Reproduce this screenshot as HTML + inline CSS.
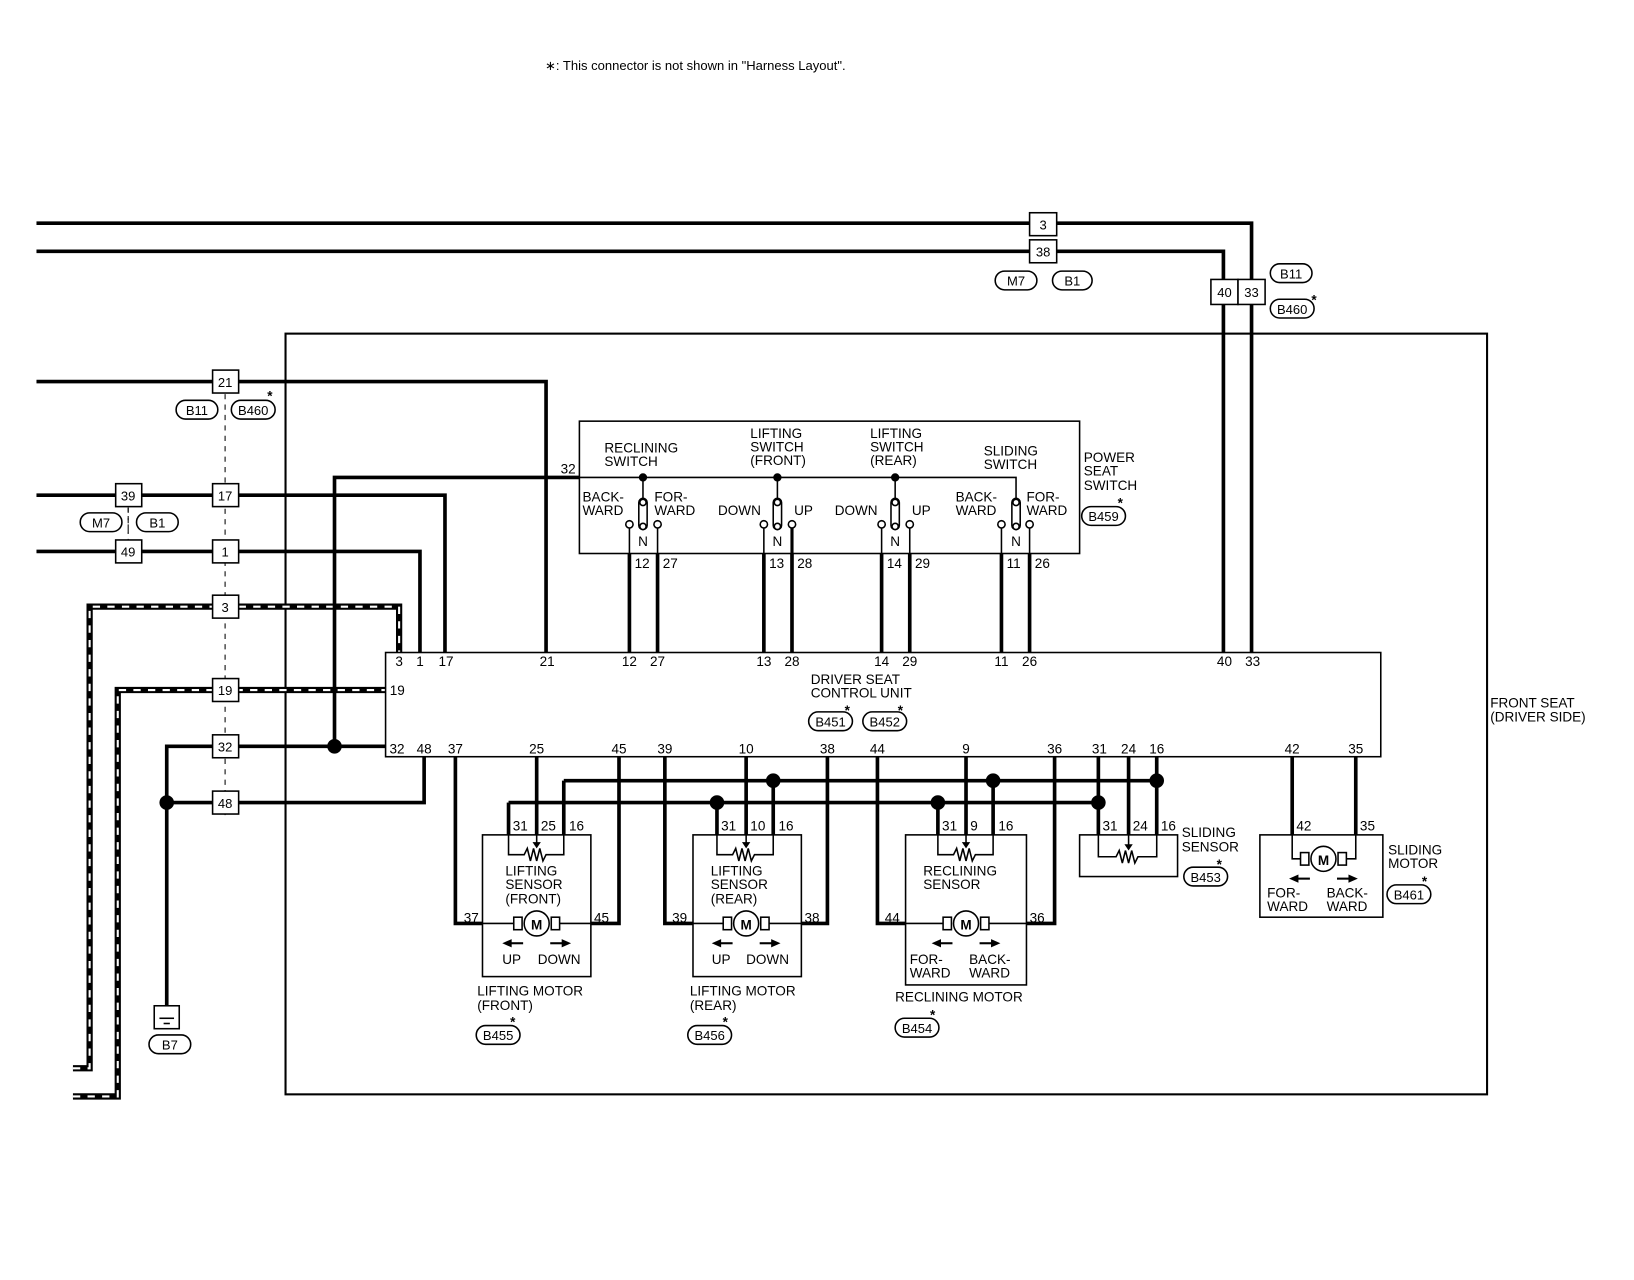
<!DOCTYPE html>
<html><head><meta charset="utf-8"><style>
html,body{margin:0;padding:0;background:#fff}
svg{display:block}
text{font-family:"Liberation Sans",Arial,sans-serif;font-size:13px;fill:#000}
.p{font-size:12.5px}
</style></head><body>
<svg width="1634" height="1280" viewBox="0 0 1568 1228" xmlns="http://www.w3.org/2000/svg">
<g fill="none" stroke="#000">
<!-- frame -->
<rect x="274" y="320" width="1153" height="730" stroke-width="2"/>
<!-- top lines -->
<polyline points="35,214 1201,214 1201,626" stroke-width="3.5"/>
<polyline points="35,241 1174,241 1174,626" stroke-width="3.5"/>
<!-- left lines -->
<polyline points="35,366 524,366 524,626" stroke-width="3.5"/>
<polyline points="35,475 427,475 427,626" stroke-width="3.5"/>
<polyline points="35,529 403,529 403,626" stroke-width="3.5"/>
<!-- shielded -->
<polyline points="70,1025 86,1025 86,582 383,582 383,626" stroke-width="6"/>
<polyline points="70,1052 113,1052 113,662 370,662" stroke-width="6"/>
<polyline points="70,1025 86,1025 86,582 383,582 383,626" stroke-width="2" stroke="#fff" stroke-dasharray="7,7"/>
<polyline points="70,1052 113,1052 113,662 370,662" stroke-width="2" stroke="#fff" stroke-dasharray="7,7"/>
<!-- 32/48 -->
<polyline points="160,965 160,716 370,716" stroke-width="3.5"/>
<polyline points="160,770 407,770 407,726" stroke-width="3.5"/>
<polyline points="321,716 321,458 556,458" stroke-width="3.5"/>
<!-- dashed connectors -->
<line x1="216" y1="378" x2="216" y2="782" stroke-width="1" stroke-dasharray="5,5"/>
<line x1="123" y1="487" x2="123" y2="540" stroke-width="1" stroke-dasharray="5,5"/>
<line x1="123" y1="487" x2="123" y2="512" stroke-width="1" stroke-dasharray="4,4"/>
<!-- ground -->
<rect x="148" y="965" width="24" height="22" stroke-width="1.5"/>
<line x1="153" y1="977" x2="167" y2="977" stroke-width="1.5"/>
<line x1="157" y1="982" x2="163" y2="982" stroke-width="1.5"/>
<!-- control unit -->
<rect x="370" y="626" width="955" height="100" stroke-width="1.5"/>
<!-- power seat switch -->
<rect x="556" y="404" width="480" height="127" stroke-width="1.5"/>
<polyline points="556,458 975,458 975,478" stroke-width="1.5"/>
<!-- switch wires -->
<g stroke-width="1.5">
<line x1="617" y1="458" x2="617" y2="478"/><line x1="746" y1="458" x2="746" y2="478"/><line x1="859" y1="458" x2="859" y2="478"/>
<rect x="613" y="478" width="8" height="30" rx="4"/><rect x="742" y="478" width="8" height="30" rx="4"/><rect x="855" y="478" width="8" height="30" rx="4"/><rect x="971" y="478" width="8" height="30" rx="4"/>
<circle cx="617" cy="482" r="3" fill="#fff"/><circle cx="617" cy="505" r="3" fill="#fff"/>
<circle cx="746" cy="482" r="3" fill="#fff"/><circle cx="746" cy="505" r="3" fill="#fff"/>
<circle cx="859" cy="482" r="3" fill="#fff"/><circle cx="859" cy="505" r="3" fill="#fff"/>
<circle cx="975" cy="482" r="3" fill="#fff"/><circle cx="975" cy="505" r="3" fill="#fff"/>
<circle cx="604" cy="503" r="3.5"/><circle cx="631" cy="503" r="3.5"/>
<circle cx="733" cy="503" r="3.5"/><circle cx="760" cy="503" r="3.5"/>
<circle cx="846" cy="503" r="3.5"/><circle cx="873" cy="503" r="3.5"/>
<circle cx="961" cy="503" r="3.5"/><circle cx="988" cy="503" r="3.5"/>
<line x1="604" y1="507" x2="604" y2="531"/><line x1="631" y1="507" x2="631" y2="531"/>
<line x1="733" y1="507" x2="733" y2="531"/><line x1="846" y1="507" x2="846" y2="531"/>
<line x1="873" y1="507" x2="873" y2="531"/><line x1="961" y1="507" x2="961" y2="531"/><line x1="988" y1="507" x2="988" y2="531"/>
</g>
<line x1="760" y1="507" x2="760" y2="531" stroke-width="3"/>
<g stroke-width="3.5">
<line x1="604" y1="531" x2="604" y2="626"/><line x1="631" y1="531" x2="631" y2="626"/>
<line x1="733" y1="531" x2="733" y2="626"/><line x1="760" y1="531" x2="760" y2="626"/>
<line x1="846" y1="531" x2="846" y2="626"/><line x1="873" y1="531" x2="873" y2="626"/>
<line x1="961" y1="531" x2="961" y2="626"/><line x1="988" y1="531" x2="988" y2="626"/>
<!-- bottom wires -->
<line x1="541" y1="749" x2="1110" y2="749"/>
<line x1="488" y1="770" x2="1054" y2="770"/>
<polyline points="437,726 437,886 463,886"/>
<polyline points="594,726 594,886 567,886"/>
<polyline points="638,726 638,886 665,886"/>
<polyline points="794,726 794,886 769,886"/>
<polyline points="842,726 842,886 869,886"/>
<polyline points="1012,726 1012,886 985,886"/>
<line x1="488" y1="770" x2="488" y2="801"/><line x1="515" y1="726" x2="515" y2="801"/><line x1="541" y1="749" x2="541" y2="801"/>
<line x1="688" y1="770" x2="688" y2="801"/><line x1="716" y1="726" x2="716" y2="801"/><line x1="742" y1="749" x2="742" y2="801"/>
<line x1="900" y1="770" x2="900" y2="801"/><line x1="927" y1="726" x2="927" y2="801"/><line x1="953" y1="749" x2="953" y2="801"/>
<line x1="1054" y1="726" x2="1054" y2="801"/><line x1="1083" y1="726" x2="1083" y2="801"/><line x1="1110" y1="726" x2="1110" y2="801"/>
<line x1="1240" y1="726" x2="1240" y2="801"/><line x1="1301" y1="726" x2="1301" y2="801"/>
</g>
<!-- component boxes -->
<g stroke-width="1.5">
<rect x="463" y="801" width="104" height="136"/>
<rect x="665" y="801" width="104" height="136"/>
<rect x="869" y="801" width="116" height="144"/>
<rect x="1036" y="801" width="94" height="40"/>
<rect x="1209" y="801" width="118" height="79"/>
<!-- sensors -->
<polyline points="488,801 488,820 503,820 506,814 509,826 512,814 515,826 518,814 521,826 524,820 541,820 541,801"/>
<polyline points="688,801 688,820 703,820 706,814 709,826 712,814 715,826 718,814 721,826 724,820 742,820 742,801"/>
<polyline points="900,801 900,820 915,820 918,814 921,826 924,814 927,826 930,814 933,826 936,820 953,820 953,801"/>
<polyline points="1054,801 1054,822 1071,822 1074,816 1077,828 1080,816 1083,828 1086,816 1089,828 1092,822 1110,822 1110,801"/>
<line x1="515" y1="801" x2="515" y2="812"/><line x1="716" y1="801" x2="716" y2="812"/><line x1="927" y1="801" x2="927" y2="812"/><line x1="1083" y1="801" x2="1083" y2="814"/>
<!-- motor wiring -->
<line x1="463" y1="886" x2="493" y2="886"/><line x1="537" y1="886" x2="567" y2="886"/>
<line x1="665" y1="886" x2="694" y2="886"/><line x1="738" y1="886" x2="769" y2="886"/>
<line x1="869" y1="886" x2="905" y2="886"/><line x1="949" y1="886" x2="985" y2="886"/>
<polyline points="1240,801 1240,824 1248,824"/><polyline points="1301,801 1301,824 1292,824"/>
<!-- ovals -->
<rect x="955" y="260" width="40" height="18" rx="9"/><rect x="1010" y="260" width="38" height="18" rx="9"/>
<rect x="1219" y="253" width="40" height="18" rx="9"/><rect x="1219" y="287" width="42" height="18" rx="9"/>
<rect x="169" y="384" width="40" height="18" rx="9"/><rect x="222" y="384" width="42" height="18" rx="9"/>
<rect x="77" y="492" width="40" height="18" rx="9"/><rect x="131" y="492" width="40" height="18" rx="9"/>
<rect x="143" y="993" width="40" height="18" rx="9"/>
<rect x="776" y="683" width="42" height="18" rx="9"/><rect x="828" y="683" width="42" height="18" rx="9"/>
<rect x="1038" y="486" width="42" height="18" rx="9"/>
<rect x="457" y="984" width="42" height="18" rx="9"/><rect x="660" y="984" width="42" height="18" rx="9"/>
<rect x="859" y="977" width="42" height="18" rx="9"/>
<rect x="1136" y="832" width="42" height="18" rx="9"/><rect x="1331" y="849" width="42" height="18" rx="9"/>
</g>
<!-- connector boxes -->
<g stroke-width="1.5" fill="#fff">
<rect x="988" y="204" width="26" height="22"/><rect x="988" y="230" width="26" height="22"/>
<rect x="1162" y="268" width="26" height="24"/><rect x="1188" y="268" width="26" height="24"/>
<rect x="204" y="355" width="25" height="22"/><rect x="204" y="464" width="25" height="22"/><rect x="204" y="518" width="25" height="22"/>
<rect x="204" y="571" width="25" height="22"/><rect x="204" y="651" width="25" height="22"/><rect x="204" y="705" width="25" height="22"/><rect x="204" y="759" width="25" height="22"/>
<rect x="111" y="464" width="25" height="22"/><rect x="111" y="518" width="25" height="22"/>
</g>
</g>
<!-- motors -->
<g stroke="#000" stroke-width="1.5" fill="#fff">
<rect x="493" y="880" width="8" height="12"/><rect x="529" y="880" width="8" height="12"/><circle cx="515" cy="886" r="12"/>
<rect x="694" y="880" width="8" height="12"/><rect x="730" y="880" width="8" height="12"/><circle cx="716" cy="886" r="12"/>
<rect x="905" y="880" width="8" height="12"/><rect x="941" y="880" width="8" height="12"/><circle cx="927" cy="886" r="12"/>
<rect x="1248" y="818" width="8" height="12"/><rect x="1284" y="818" width="8" height="12"/><circle cx="1270" cy="824" r="12"/>
</g>
<g fill="#000" stroke="#000" stroke-width="2">
<line x1="490" y1="905" x2="502" y2="905"/><path d="M482 905l9-4v8z" stroke-width="0"/>
<line x1="528" y1="905" x2="540" y2="905"/><path d="M548 905l-9-4v8z" stroke-width="0"/>
<line x1="691" y1="905" x2="703" y2="905"/><path d="M683 905l9-4v8z" stroke-width="0"/>
<line x1="729" y1="905" x2="741" y2="905"/><path d="M749 905l-9-4v8z" stroke-width="0"/>
<line x1="902" y1="905" x2="914" y2="905"/><path d="M894 905l9-4v8z" stroke-width="0"/>
<line x1="940" y1="905" x2="952" y2="905"/><path d="M960 905l-9-4v8z" stroke-width="0"/>
<line x1="1245" y1="843" x2="1257" y2="843"/><path d="M1237 843l9-4v8z" stroke-width="0"/>
<line x1="1283" y1="843" x2="1295" y2="843"/><path d="M1303 843l-9-4v8z" stroke-width="0"/>
<path d="M515 814l-4-6h8z M716 814l-4-6h8z M927 814l-4-6h8z M1083 816l-4-6h8z" stroke-width="0"/>
<line x1="156" y1="987" x2="150" y2="991" stroke-width="0"/>
</g>
<!-- dots -->
<g fill="#000">
<circle cx="617" cy="458" r="4"/><circle cx="746" cy="458" r="4"/><circle cx="859" cy="458" r="4"/>
<circle cx="321" cy="716" r="7"/><circle cx="160" cy="770" r="7"/>
<circle cx="742" cy="749" r="7"/><circle cx="953" cy="749" r="7"/><circle cx="1110" cy="749" r="7"/>
<circle cx="688" cy="770" r="7"/><circle cx="900" cy="770" r="7"/><circle cx="1054" cy="770" r="7"/>
</g>
<!-- text -->
<text x="523" y="67" style="font-size:12.5px">∗: This connector is not shown in "Harness Layout".</text>
<g class="p" text-anchor="middle">
<text x="1001" y="220" class="p">3</text><text x="1001" y="246" class="p">38</text>
<text x="1175" y="285" class="p">40</text><text x="1201" y="285" class="p">33</text>
<text x="216" y="371" class="p">21</text><text x="216" y="480" class="p">17</text><text x="216" y="534" class="p">1</text>
<text x="216" y="587" class="p">3</text><text x="216" y="667" class="p">19</text><text x="216" y="721" class="p">32</text><text x="216" y="775" class="p">48</text>
<text x="123" y="480" class="p">39</text><text x="123" y="534" class="p">49</text>
<text x="975" y="274" class="p">M7</text><text x="1029" y="274" class="p">B1</text>
<text x="1239" y="267" class="p">B11</text><text x="1240" y="301" class="p">B460</text>
<text x="189" y="398" class="p">B11</text><text x="243" y="398" class="p">B460</text>
<text x="97" y="506" class="p">M7</text><text x="151" y="506" class="p">B1</text>
<text x="163" y="1007" class="p">B7</text>
<text x="797" y="697" class="p">B451</text><text x="849" y="697" class="p">B452</text>
<text x="1059" y="500" class="p">B459</text>
<text x="478" y="998" class="p">B455</text><text x="681" y="998" class="p">B456</text><text x="880" y="991" class="p">B454</text>
<text x="1157" y="846" class="p">B453</text><text x="1352" y="863" class="p">B461</text>
<!-- control unit pins -->
<text x="383" y="639">3</text><text x="403" y="639">1</text><text x="428" y="639">17</text><text x="525" y="639">21</text>
<text x="604" y="639">12</text><text x="631" y="639">27</text><text x="733" y="639">13</text><text x="760" y="639">28</text>
<text x="846" y="639">14</text><text x="873" y="639">29</text><text x="961" y="639">11</text><text x="988" y="639">26</text>
<text x="1175" y="639">40</text><text x="1202" y="639">33</text>
<text x="381" y="723">32</text><text x="407" y="723">48</text><text x="437" y="723">37</text><text x="515" y="723">25</text>
<text x="594" y="723">45</text><text x="638" y="723">39</text><text x="716" y="723">10</text><text x="794" y="723">38</text>
<text x="842" y="723">44</text><text x="927" y="723">9</text><text x="1012" y="723">36</text><text x="1055" y="723">31</text>
<text x="1083" y="723">24</text><text x="1110" y="723">16</text><text x="1240" y="723">42</text><text x="1301" y="723">35</text>
<text x="617" y="524">N</text><text x="746" y="524">N</text><text x="859" y="524">N</text><text x="975" y="524">N</text>
</g>
<g class="p">
<text x="374" y="667">19</text><text x="538" y="454">32</text>
<text x="609" y="545">12</text><text x="636" y="545">27</text><text x="738" y="545">13</text><text x="765" y="545">28</text>
<text x="851" y="545">14</text><text x="878" y="545">29</text><text x="966" y="545">11</text><text x="993" y="545">26</text>
<text x="492" y="797">31</text><text x="519" y="797">25</text><text x="546" y="797">16</text>
<text x="692" y="797">31</text><text x="720" y="797">10</text><text x="747" y="797">16</text>
<text x="904" y="797">31</text><text x="931" y="797">9</text><text x="958" y="797">16</text>
<text x="1058" y="797">31</text><text x="1087" y="797">24</text><text x="1114" y="797">16</text>
<text x="1244" y="797">42</text><text x="1305" y="797">35</text>
<text x="445" y="885">37</text><text x="570" y="885">45</text><text x="645" y="885">39</text><text x="772" y="885">38</text>
<text x="849" y="885">44</text><text x="988" y="885">36</text>
</g>
<g text-anchor="middle" style="font-size:16px;font-weight:bold">
<text x="515" y="892">M</text><text x="716" y="892">M</text><text x="927" y="892">M</text><text x="1270" y="830">M</text>
</g>
<g>
<text x="580" y="434">RECLINING</text><text x="580" y="447">SWITCH</text>
<text x="720" y="420">LIFTING</text><text x="720" y="433">SWITCH</text><text x="720" y="446">(FRONT)</text>
<text x="835" y="420">LIFTING</text><text x="835" y="433">SWITCH</text><text x="835" y="446">(REAR)</text>
<text x="944" y="437">SLIDING</text><text x="944" y="450">SWITCH</text>
<text x="1040" y="443">POWER</text><text x="1040" y="456">SEAT</text><text x="1040" y="470">SWITCH</text>
<text x="559" y="481">BACK-</text><text x="559" y="494">WARD</text>
<text x="628" y="481">FOR-</text><text x="628" y="494">WARD</text>
<text x="689" y="494">DOWN</text><text x="762" y="494">UP</text>
<text x="801" y="494">DOWN</text><text x="875" y="494">UP</text>
<text x="917" y="481">BACK-</text><text x="917" y="494">WARD</text>
<text x="985" y="481">FOR-</text><text x="985" y="494">WARD</text>
<text x="778" y="656">DRIVER SEAT</text><text x="778" y="669">CONTROL UNIT</text>
<text x="1430" y="679">FRONT SEAT</text><text x="1430" y="692">(DRIVER SIDE)</text>
<text x="485" y="840">LIFTING</text><text x="485" y="853">SENSOR</text><text x="485" y="867">(FRONT)</text>
<text x="682" y="840">LIFTING</text><text x="682" y="853">SENSOR</text><text x="682" y="867">(REAR)</text>
<text x="886" y="840">RECLINING</text><text x="886" y="853">SENSOR</text>
<text x="482" y="925">UP</text><text x="516" y="925">DOWN</text>
<text x="683" y="925">UP</text><text x="716" y="925">DOWN</text>
<text x="873" y="925">FOR-</text><text x="930" y="925">BACK-</text><text x="873" y="938">WARD</text><text x="930" y="938">WARD</text>
<text x="1216" y="861">FOR-</text><text x="1273" y="861">BACK-</text><text x="1216" y="874">WARD</text><text x="1273" y="874">WARD</text>
<text x="458" y="955">LIFTING MOTOR</text><text x="458" y="969">(FRONT)</text>
<text x="662" y="955">LIFTING MOTOR</text><text x="662" y="969">(REAR)</text>
<text x="859" y="961">RECLINING MOTOR</text>
<text x="1134" y="803">SLIDING</text><text x="1134" y="817">SENSOR</text>
<text x="1332" y="820">SLIDING</text><text x="1332" y="833">MOTOR</text>
</g>
<g style="font-size:15px;font-weight:bold" text-anchor="middle">
<text x="259" y="384">*</text><text x="1261" y="292">*</text><text x="813" y="686">*</text><text x="864" y="686">*</text>
<text x="1075" y="487">*</text><text x="492" y="985">*</text><text x="696" y="985">*</text><text x="895" y="978">*</text>
<text x="1170" y="834">*</text><text x="1367" y="850">*</text>
</g>
</svg>
</body></html>
